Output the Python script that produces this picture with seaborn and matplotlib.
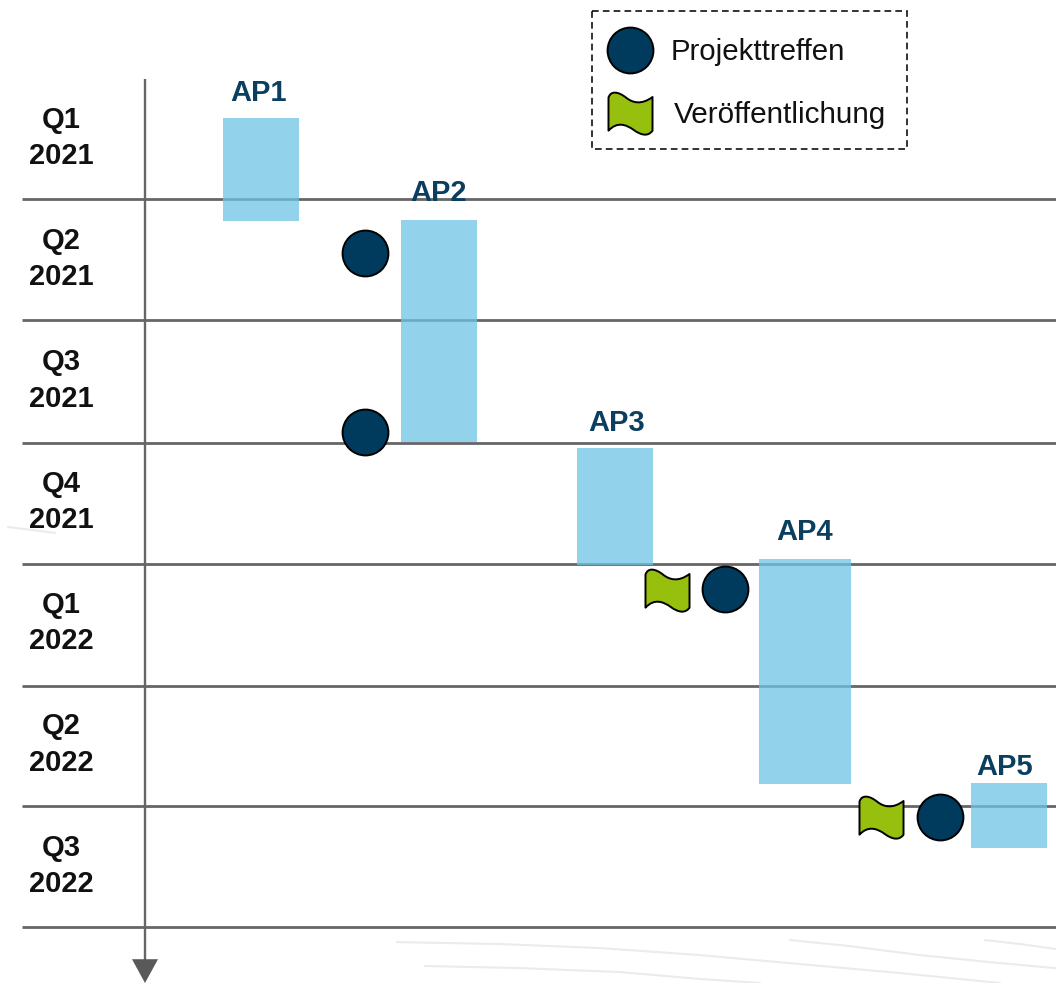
import numpy as np
import pandas as pd
import matplotlib
matplotlib.use("Agg")
import matplotlib.pyplot as plt
from matplotlib.path import Path
from matplotlib.patches import Rectangle, Polygon
import seaborn as sns

sns.set_theme(style="white")
plt.rcParams["font.family"] = ["Liberation Sans", "DejaVu Sans"]

# Schedule: time runs downward, one unit per quarter
quarters = ["Q1", "Q2", "Q3", "Q4", "Q1", "Q2", "Q3"]
years = ["2021", "2021", "2021", "2021", "2022", "2022", "2022"]
quarter_ends = [1.0, 2.0, 3.01, 4.01, 5.01, 6.0, 7.0]

packages = ["AP1", "AP2", "AP3", "AP4", "AP5"]
package_start = [0.33, 1.17, 3.05, 3.97, 5.81]
package_end = [1.18, 3.00, 4.02, 5.82, 6.35]
package_left = [223, 401, 577, 759, 971]
package_right = [299, 477, 653, 851, 1047]
label_x = [259, 439, 617, 805, 1005]
label_t = [0.13, 0.954, 2.85, 3.748, 5.684]

meeting_x = [365, 365, 725, 940]
meeting_t = [1.445, 2.92, 4.215, 6.09]

release_x = [667, 881]
release_t = [4.225, 6.09]

NAVY = "#003a5d"
GREEN = "#97bf0d"
SKY = "#6ec5e5"
RULE = "#666666"
INK = "#111111"

flag_path = Path(
    [(-1.0, 0.72), (-0.9, 1.05), (-0.55, 1.0), (-0.2, 0.72), (0.1, 0.48), (0.5, 0.38), (1.0, 0.75),
     (1.0, -0.78), (0.8, -1.05), (0.5, -1.0), (0.15, -0.75), (-0.2, -0.5), (-0.6, -0.35), (-1.0, -0.78),
     (-1.0, 0.72)],
    [Path.MOVETO, Path.CURVE4, Path.CURVE4, Path.CURVE4, Path.CURVE4, Path.CURVE4, Path.CURVE4,
     Path.LINETO, Path.CURVE4, Path.CURVE4, Path.CURVE4, Path.CURVE4, Path.CURVE4, Path.CURVE4,
     Path.CLOSEPOLY],
)

fig = plt.figure(figsize=(10.56, 9.83), dpi=100)
ax = fig.add_axes([0, 0, 1, 1])
ax.set_xlim(0, 1056)
ax.set_ylim(7.461, -0.640)
ax.axis("off")

# Faint backdrop strokes
for xs, ys in [
    ([397, 500, 600, 700, 800, 900, 1000], [7.124, 7.140, 7.173, 7.231, 7.305, 7.379, 7.461]),
    ([425, 520, 620, 700, 760], [7.321, 7.338, 7.371, 7.428, 7.461]),
    ([790, 850, 920, 990, 1056], [7.107, 7.157, 7.231, 7.289, 7.339]),
    ([985, 1020, 1056], [7.107, 7.140, 7.181]),
    ([8, 55], [3.703, 3.752]),
]:
    ax.plot(xs, ys, color="#e8ecec", lw=1.5, zorder=0)

# Quarter separators and the downward time arrow
ax.hlines(quarter_ends, 22, 1056, color=RULE, lw=2.0, zorder=1)
ax.plot([145, 145], [0.01, 7.27], color=RULE, lw=1.7, solid_capstyle="butt", zorder=1)
ax.add_patch(Polygon([[132, 7.265], [158, 7.265], [145, 7.461]], closed=True,
                     facecolor="#595959", edgecolor="none", zorder=2))

# Quarter labels
for i, (q, y) in enumerate(zip(quarters, years)):
    ax.text(61, i + 0.345, q, ha="center", va="center", fontsize=21, fontweight="bold", color=INK)
    ax.text(61, i + 0.645, y, ha="center", va="center", fontsize=21, fontweight="bold", color=INK)

# Work packages
for name, t0, t1, x0, x1, lx, lt in zip(packages, package_start, package_end,
                                        package_left, package_right, label_x, label_t):
    ax.bar((x0 + x1) / 2, t1 - t0, width=x1 - x0, bottom=t0, color=SKY, alpha=0.75, lw=0, zorder=3)
    ax.text(lx, lt, name, ha="center", va="center",
            fontsize=21, fontweight="bold", color="#0b3f60", zorder=6)

# Milestones
meetings = pd.DataFrame({"x": meeting_x, "t": meeting_t})
releases = pd.DataFrame({"x": release_x, "t": release_t})
sns.scatterplot(data=meetings, x="x", y="t", ax=ax, s=1090, color=NAVY, edgecolor="black",
                linewidth=1.4, zorder=5, legend=False, clip_on=False)
sns.scatterplot(data=releases, x="x", y="t", ax=ax, s=1108, marker=flag_path, color=GREEN,
                edgecolor="black", linewidth=1.4, zorder=5, legend=False)
ax.set_xlabel("")
ax.set_ylabel("")
ax.set_xlim(0, 1056)
ax.set_ylim(7.461, -0.640)

# Key in the top right corner
ax.add_patch(Rectangle((592, -0.55), 315, 1.14, fill=False, edgecolor="#111111", lw=1.2,
                       linestyle=(0, (4, 2.5)), zorder=6))
ax.scatter([630], [-0.227], s=1090, color=NAVY, edgecolor="black", linewidth=1.4, zorder=7)
ax.scatter([630], [0.29], s=1108, marker=flag_path, color=GREEN, edgecolor="black", linewidth=1.4, zorder=7)
ax.text(671, -0.212, "Projekttreffen", ha="left", va="center", fontsize=21.2, color=INK, zorder=7)
ax.text(674, 0.308, "Veröffentlichung", ha="left", va="center", fontsize=21.4, color=INK, zorder=7)

fig.savefig("out.png", dpi=100, facecolor="white")
